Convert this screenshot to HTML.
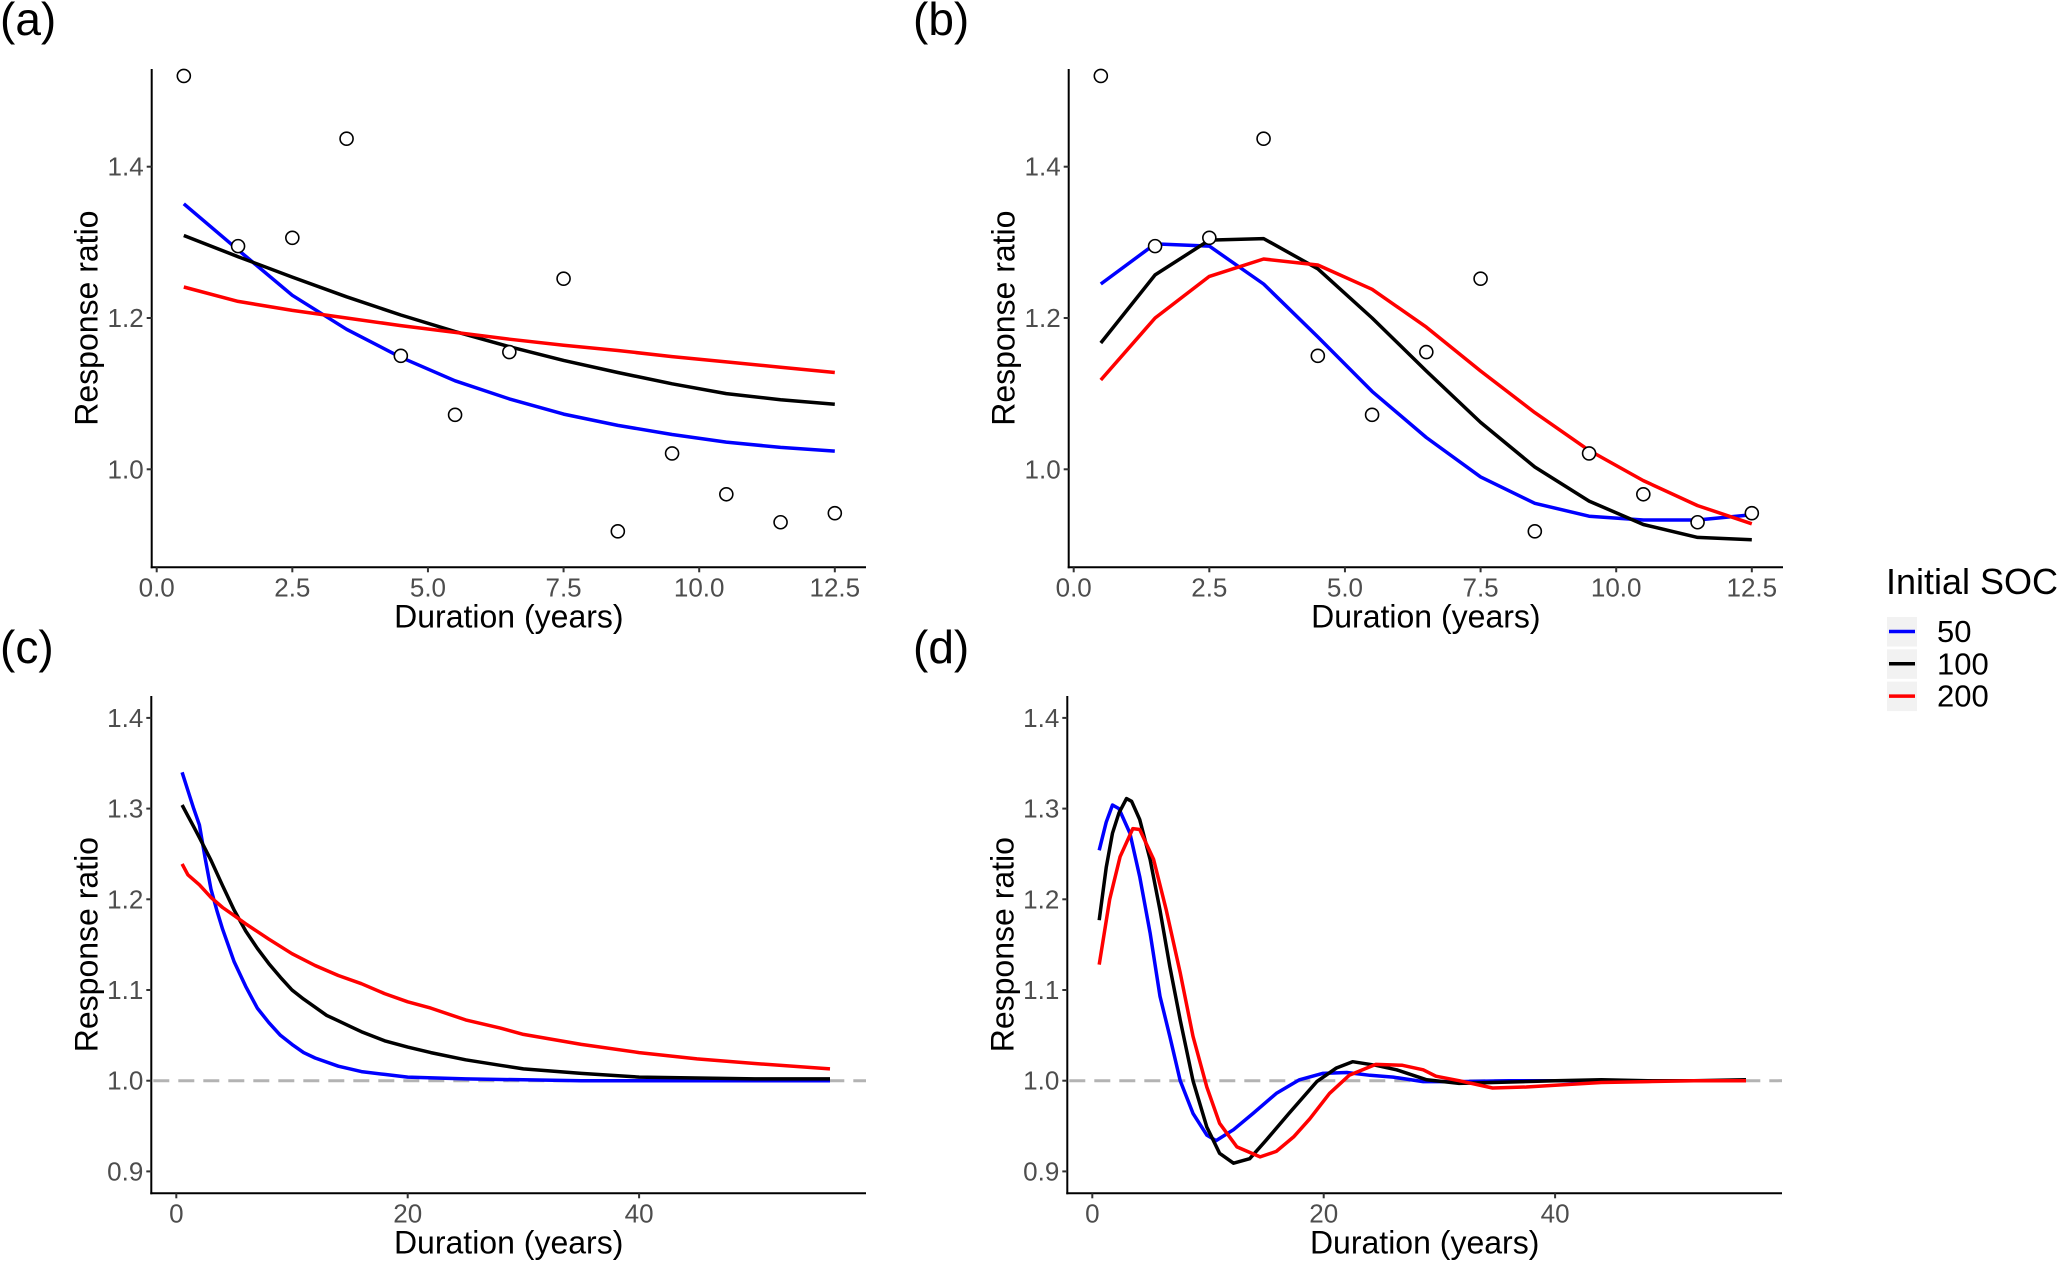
<!DOCTYPE html>
<html><head><meta charset="utf-8"><style>
html,body{margin:0;padding:0;background:#fff;}
svg{display:block;font-family:"Liberation Sans",sans-serif;}
</style></head><body>
<svg id="fig" width="2067" height="1263" viewBox="0 0 2067 1263" xmlns="http://www.w3.org/2000/svg"></svg>
<script>
// ---- data ----
const obsYears = [0.5,1.5,2.5,3.5,4.5,5.5,6.5,7.5,8.5,9.5,10.5,11.5,12.5];
const obsValues = [1.52,1.295,1.306,1.437,1.15,1.072,1.155,1.252,0.918,1.021,0.967,0.930,0.942];
const aBlue = [1.351,1.29,1.23,1.185,1.148,1.117,1.093,1.073,1.058,1.046,1.036,1.029,1.024];
const aBlack = [1.309,1.281,1.254,1.228,1.204,1.182,1.162,1.144,1.128,1.113,1.100,1.092,1.086];
const aRed = [1.241,1.222,1.21,1.2,1.19,1.181,1.172,1.164,1.157,1.149,1.142,1.135,1.128];
const bBlue = [1.245,1.298,1.295,1.245,1.175,1.103,1.042,0.99,0.955,0.938,0.933,0.933,0.94];
const bBlack = [1.167,1.257,1.303,1.305,1.265,1.2,1.13,1.062,1.003,0.958,0.927,0.91,0.907];
const bRed = [1.118,1.2,1.255,1.278,1.27,1.238,1.188,1.13,1.075,1.025,0.985,0.952,0.928];

const cBlueX = [0.5,1,1.5,2,2.5,3,3.5,4,5,6,7,8,9,10,11,12,14,16,18,20,25,30,35,40,45,50,56.5];
const cBlue = [1.34,1.32,1.30,1.282,1.245,1.211,1.188,1.167,1.131,1.104,1.08,1.064,1.05,1.04,1.031,1.025,1.016,1.01,1.007,1.004,1.002,1.001,1.0,1.0,1.0,1.0,1.0];
const cBlackX = [0.5,1,1.5,2,3,4,5,6,7,8,9,10,11,12,13,14,15,16,18,20,22,25,28,30,35,40,45,50,56.5];
const cBlack = [1.304,1.292,1.28,1.268,1.243,1.215,1.188,1.165,1.146,1.129,1.114,1.10,1.09,1.081,1.072,1.066,1.06,1.054,1.044,1.037,1.031,1.023,1.017,1.013,1.008,1.004,1.003,1.002,1.002];
const cRedX = [0.5,1,2,3,4,5,6,8,10,12,14,16,18,20,22,25,28,30,35,40,45,50,56.5];
const cRed = [1.239,1.227,1.216,1.202,1.191,1.182,1.173,1.156,1.14,1.127,1.116,1.107,1.096,1.087,1.08,1.067,1.058,1.051,1.04,1.031,1.024,1.019,1.013];

const dBlueX = [0.6,1.2,1.75,2.3,3.25,4.1,5,5.85,6.7,7.6,8.7,9.9,10.7,12.2,13.9,15.9,17.9,19.9,22,24,26,28.6,31.7,36,40,44,48,52,56.5];
const dBlue = [1.254,1.285,1.304,1.30,1.273,1.225,1.163,1.093,1.049,1.0,0.964,0.94,0.934,0.946,0.964,0.986,1.001,1.008,1.009,1.006,1.004,0.999,0.999,1.0,1.0,1.0,1.0,1.0,1.0];
const dBlackX = [0.6,1.2,1.75,2.3,2.96,3.4,4.1,5,5.85,6.7,7.6,8.7,9.9,11,12.2,13.6,15,17,19.4,21.1,22.5,24.5,26.3,28.9,31.7,34.6,40,44,48,52,56.5];
const dBlack = [1.177,1.235,1.273,1.295,1.311,1.308,1.288,1.244,1.188,1.126,1.067,1.0,0.949,0.92,0.909,0.914,0.934,0.964,0.999,1.014,1.021,1.017,1.012,1.001,0.997,0.998,1.0,1.001,1.0,1.0,1.001];
const dRedX = [0.6,1.5,2.4,3.5,4.1,5.3,6.4,7.6,8.7,9.9,11,12.5,14.5,15.9,17.4,18.8,20.5,22.2,24.5,26.8,28.6,29.7,31.7,34.6,37.5,40,44,48,52,56.5];
const dRed = [1.128,1.2,1.247,1.278,1.277,1.244,1.188,1.119,1.049,0.993,0.953,0.927,0.916,0.922,0.938,0.958,0.986,1.006,1.018,1.017,1.012,1.005,1.0,0.992,0.993,0.995,0.998,0.999,1.0,1.0];

const abXTicks = [0,2.5,5,7.5,10,12.5];
const abXLabels = ["0.0","2.5","5.0","7.5","10.0","12.5"];
const abYTicks = [1.0,1.2,1.4];
const abYLabels = ["1.0","1.2","1.4"];
const cdXTicks = [0,20,40];
const cdXLabels = ["0","20","40"];
const cdYTicks = [0.9,1.0,1.1,1.2,1.3,1.4];
const cdYLabels = ["0.9","1.0","1.1","1.2","1.3","1.4"];

const NS="http://www.w3.org/2000/svg";
const svg=document.getElementById('fig');
function mk(tag,attrs,parent){const e=document.createElementNS(NS,tag);for(const k in attrs)e.setAttribute(k,attrs[k]);(parent||svg).appendChild(e);return e;}

const COLORS={blue:'#0000ff',black:'#000000',red:'#ff0000'};

function panel(cfg){
  const g=mk('g',{});
  
  
  const sx=v=>cfg.x0+v*cfg.xs;
  const sy=v=>cfg.y1-(v-1)*cfg.ys;
  const lab=mk('text',{x:cfg.labX,y:cfg.labY,'font-size':46,fill:'#000'},g);
  lab.textContent=cfg.label;
  
  
  if(cfg.hline){
    const h=mk('line',{x1:cfg.ax+2,x2:cfg.right,y1:sy(1),y2:sy(1),stroke:'#b3b3b3','stroke-width':3,'stroke-dasharray':'16 9'},g);
    
    
  }
  const ya=mk('line',{x1:cfg.ax,x2:cfg.ax,y1:cfg.top,y2:cfg.bot+1,stroke:'#000','stroke-width':2},g);
  
  
  const xa=mk('line',{x1:cfg.ax-1,x2:cfg.right,y1:cfg.bot,y2:cfg.bot,stroke:'#000','stroke-width':2},g);
  
  
  cfg.xt.forEach((t,i)=>{
    const x=sx(t);
    mk('line',{x1:x,x2:x,y1:cfg.bot,y2:cfg.bot+5,stroke:'#333','stroke-width':2},g);
    const tx=mk('text',{x:x,y:cfg.bot+29,'font-size':26,fill:'#4d4d4d','text-anchor':'middle'},g);
    tx.textContent=cfg.xl[i];
    
    
  });
  cfg.yt.forEach((t,i)=>{
    const y=sy(t);
    mk('line',{x1:cfg.ax-5,x2:cfg.ax,y1:y,y2:y,stroke:'#333','stroke-width':2},g);
    const ty=mk('text',{x:cfg.ax-8,y:y+9,'font-size':26,fill:'#4d4d4d','text-anchor':'end'},g);
    ty.textContent=cfg.yl[i];
    
    
  });
  const xt=mk('text',{x:(cfg.ax+cfg.right)/2,y:cfg.bot+60,'font-size':32,fill:'#000','text-anchor':'middle'},g);
  xt.textContent='Duration (years)';
  
  
  const cy=(cfg.top+cfg.bot)/2;
  const yt=mk('text',{x:cfg.ax-54,y:cy,'font-size':32,fill:'#000','text-anchor':'middle',transform:`rotate(-90 ${cfg.ax-54} ${cy})`},g);
  yt.textContent='Response ratio';
  
  
  cfg.series.forEach(s=>{
    const d=s.x.map((xv,i)=>(i?'L':'M')+sx(xv).toFixed(1)+' '+sy(s.y[i]).toFixed(1)).join(' ');
    const p=mk('path',{d:d,fill:'none',stroke:COLORS[s.c],'stroke-width':3.5,'stroke-linejoin':'round'},g);
    
    
  });
  if(cfg.points){
    obsYears.forEach((xv,i)=>{
      const c=mk('circle',{cx:sx(xv),cy:sy(obsValues[i]),r:6.5,fill:'#fff',stroke:'#000','stroke-width':1.6},g);
      
      
    });
  }
}

const ab={x0:156.7,xs:54.25,y1:469.3,ys:756.5,top:69,bot:567.3,xt:abXTicks,xl:abXLabels,yt:abYTicks,yl:abYLabels,points:true};
panel(Object.assign({},ab,{name:'panel-a',label:'(a)',labX:0,labY:35,ax:151.7,right:866,
  series:[{x:obsYears,y:aBlue,c:'blue',n:50},{x:obsYears,y:aBlack,c:'black',n:100},{x:obsYears,y:aRed,c:'red',n:200}]}));
panel(Object.assign({},ab,{name:'panel-b',label:'(b)',labX:913,labY:35,x0:156.7+917,ax:151.7+917,right:866+917,
  series:[{x:obsYears,y:bBlue,c:'blue',n:50},{x:obsYears,y:bBlack,c:'black',n:100},{x:obsYears,y:bRed,c:'red',n:200}]}));
const cd={x0:176.3,xs:11.57,y1:1080.7,ys:907,top:696,bot:1193.3,xt:cdXTicks,xl:cdXLabels,yt:cdYTicks,yl:cdYLabels,hline:true};
panel(Object.assign({},cd,{name:'panel-c',label:'(c)',labX:0,labY:663,ax:151.3,right:866,
  series:[{x:cBlueX,y:cBlue,c:'blue',n:50},{x:cBlackX,y:cBlack,c:'black',n:100},{x:cRedX,y:cRed,c:'red',n:200}]}));
panel(Object.assign({},cd,{name:'panel-d',label:'(d)',labX:913,labY:663,x0:176.3+916,ax:151.3+916,right:866+916,
  series:[{x:dBlueX,y:dBlue,c:'blue',n:50},{x:dBlackX,y:dBlack,c:'black',n:100},{x:dRedX,y:dRed,c:'red',n:200}]}));

const lg=mk('g',{});


const lt=mk('text',{x:1886,y:594,'font-size':36,fill:'#000'},lg);
lt.textContent='Initial SOC';


const legLabels=['50','100','200'];
const legColors=['blue','black','red'];
legLabels.forEach((t,i)=>{
  const y=617+i*32.3;
  const e=mk('g',{},lg);
  
  
  mk('rect',{x:1887,y:y,width:30,height:29.5,fill:'#f2f2f2'},e);
  mk('line',{x1:1889,x2:1915,y1:y+14.5,y2:y+14.5,stroke:COLORS[legColors[i]],'stroke-width':3.5},e);
  const tx=mk('text',{x:1937,y:y+25,'font-size':31,fill:'#000'},e);
  tx.textContent=t;
});
</script>
</body></html>
